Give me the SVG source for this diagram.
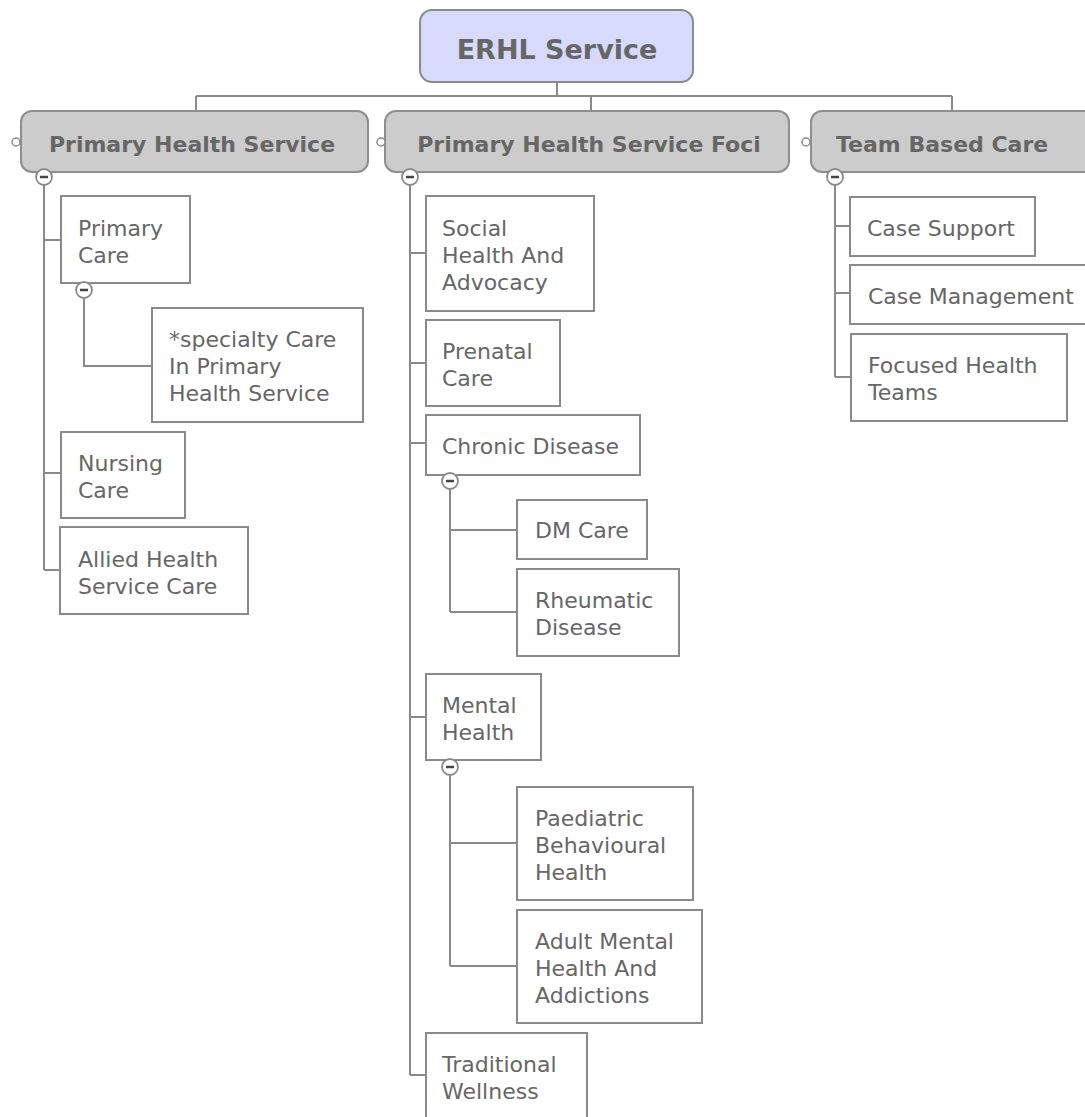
<svg xmlns="http://www.w3.org/2000/svg" width="1085" height="1117" viewBox="0 0 1085 1117">
<style>
.bg{fill:#ffffff}
.edge{fill:none;stroke:#8a8a8a;stroke-width:2}
.root{fill:#d7dafb;stroke:#8a8a8a;stroke-width:2}
.main{fill:#cccccc;stroke:#8e8e8e;stroke-width:2}
.leaf{fill:#ffffff;stroke:#8a8a8a;stroke-width:2}
.t{font-family:"DejaVu Sans",Verdana,sans-serif;font-size:22px;fill:#666666}
.tb{font-family:"DejaVu Sans",Verdana,sans-serif;font-size:22px;font-weight:bold;fill:#666666}
.tr{font-family:"DejaVu Sans",Verdana,sans-serif;font-size:27px;font-weight:bold;fill:#666666}
.knob{fill:#ffffff;stroke:#8a8a8a;stroke-width:1.5}
.col{fill:#ffffff;stroke:#8a8a8a;stroke-width:1.8}
.minus{stroke:#444444;stroke-width:2.5}
</style>
<rect class="bg" x="0" y="0" width="1085" height="1117"/>
<g id="connectors">
<path class="edge" d="M557,82 V96 M196,96 H952 M196,96 V111 M591,96 V111 M952,96 V111"/>
<path class="edge" d="M44,185 V570 M44,240 H61 M44,473 H61 M44,570 H60"/>
<path class="edge" d="M84,298 V366 H152"/>
<path class="edge" d="M410,185 V1075 M410,253 H426 M410,363 H426 M410,443 H426 M410,717 H426 M410,1075 H426"/>
<path class="edge" d="M450,489 V612 M450,530 H517 M450,612 H517"/>
<path class="edge" d="M450,775 V966 M450,843 H517 M450,966 H517"/>
<path class="edge" d="M835,185 V377 M835,226 H850 M835,293 H850 M835,377 H851"/>
</g>
<g id="root">
<rect class="root" x="420" y="10" width="273" height="72" rx="12"/>
<text class="tr" x="557" y="59" text-anchor="middle">ERHL Service</text>
</g>
<g id="primary-health-service">
<rect class="main" x="21" y="111" width="347" height="61" rx="11"/>
<circle class="knob" cx="16" cy="142" r="4"/>
<text class="tb" x="192" y="152" text-anchor="middle">Primary Health Service</text>
<circle class="col" cx="44" cy="177" r="8"/>
<line class="minus" x1="40" y1="177" x2="48" y2="177"/>
</g>
<g id="primary-health-service-foci">
<rect class="main" x="385" y="111" width="404" height="61" rx="11"/>
<circle class="knob" cx="381" cy="142" r="4"/>
<text class="tb" x="589" y="152" text-anchor="middle">Primary Health Service Foci</text>
<circle class="col" cx="410" cy="177" r="8"/>
<line class="minus" x1="406" y1="177" x2="414" y2="177"/>
</g>
<g id="team-based-care">
<rect class="main" x="811" y="111" width="290" height="61" rx="11"/>
<circle class="knob" cx="806" cy="142" r="4"/>
<text class="tb" x="836" y="152">Team Based Care</text>
<circle class="col" cx="835" cy="177" r="8"/>
<line class="minus" x1="831" y1="177" x2="839" y2="177"/>
</g>
<g id="primary-care">
<rect class="leaf" x="61" y="196" width="129" height="87"/>
<text class="t" x="78" y="236">Primary</text>
<text class="t" x="78" y="263">Care</text>
<circle class="col" cx="84" cy="290" r="8"/>
<line class="minus" x1="80" y1="290" x2="88" y2="290"/>
</g>
<g id="specialty-care">
<rect class="leaf" x="152" y="308" width="211" height="114"/>
<text class="t" x="169" y="347">*specialty Care</text>
<text class="t" x="169" y="374">In Primary</text>
<text class="t" x="169" y="401">Health Service</text>
</g>
<g id="nursing-care">
<rect class="leaf" x="61" y="432" width="124" height="86"/>
<text class="t" x="78" y="471">Nursing</text>
<text class="t" x="78" y="498">Care</text>
</g>
<g id="allied-health">
<rect class="leaf" x="60" y="527" width="188" height="87"/>
<text class="t" x="78" y="567">Allied Health</text>
<text class="t" x="78" y="594">Service Care</text>
</g>
<g id="social-health">
<rect class="leaf" x="426" y="196" width="168" height="115"/>
<text class="t" x="442" y="236">Social</text>
<text class="t" x="442" y="263">Health And</text>
<text class="t" x="442" y="290">Advocacy</text>
</g>
<g id="prenatal-care">
<rect class="leaf" x="426" y="320" width="134" height="86"/>
<text class="t" x="442" y="359">Prenatal</text>
<text class="t" x="442" y="386">Care</text>
</g>
<g id="chronic-disease">
<rect class="leaf" x="426" y="415" width="214" height="60"/>
<text class="t" x="442" y="454">Chronic Disease</text>
<circle class="col" cx="450" cy="481" r="8"/>
<line class="minus" x1="446" y1="481" x2="454" y2="481"/>
</g>
<g id="dm-care">
<rect class="leaf" x="517" y="500" width="130" height="59"/>
<text class="t" x="535" y="538">DM Care</text>
</g>
<g id="rheumatic-disease">
<rect class="leaf" x="517" y="569" width="162" height="87"/>
<text class="t" x="535" y="608">Rheumatic</text>
<text class="t" x="535" y="635">Disease</text>
</g>
<g id="mental-health">
<rect class="leaf" x="426" y="674" width="115" height="86"/>
<text class="t" x="442" y="713">Mental</text>
<text class="t" x="442" y="740">Health</text>
<circle class="col" cx="450" cy="767" r="8"/>
<line class="minus" x1="446" y1="767" x2="454" y2="767"/>
</g>
<g id="paediatric">
<rect class="leaf" x="517" y="787" width="176" height="113"/>
<text class="t" x="535" y="826">Paediatric</text>
<text class="t" x="535" y="853">Behavioural</text>
<text class="t" x="535" y="880">Health</text>
</g>
<g id="adult-mental">
<rect class="leaf" x="517" y="910" width="185" height="113"/>
<text class="t" x="535" y="949">Adult Mental</text>
<text class="t" x="535" y="976">Health And</text>
<text class="t" x="535" y="1003">Addictions</text>
</g>
<g id="traditional-wellness">
<rect class="leaf" x="426" y="1033" width="161" height="100"/>
<text class="t" x="442" y="1072">Traditional</text>
<text class="t" x="442" y="1099">Wellness</text>
</g>
<g id="case-support">
<rect class="leaf" x="850" y="197" width="185" height="59"/>
<text class="t" x="867" y="236">Case Support</text>
</g>
<g id="case-management">
<rect class="leaf" x="850" y="265" width="250" height="59"/>
<text class="t" x="868" y="304">Case Management</text>
</g>
<g id="focused-health-teams">
<rect class="leaf" x="851" y="334" width="216" height="87"/>
<text class="t" x="868" y="373">Focused Health</text>
<text class="t" x="868" y="400">Teams</text>
</g>
</svg>
